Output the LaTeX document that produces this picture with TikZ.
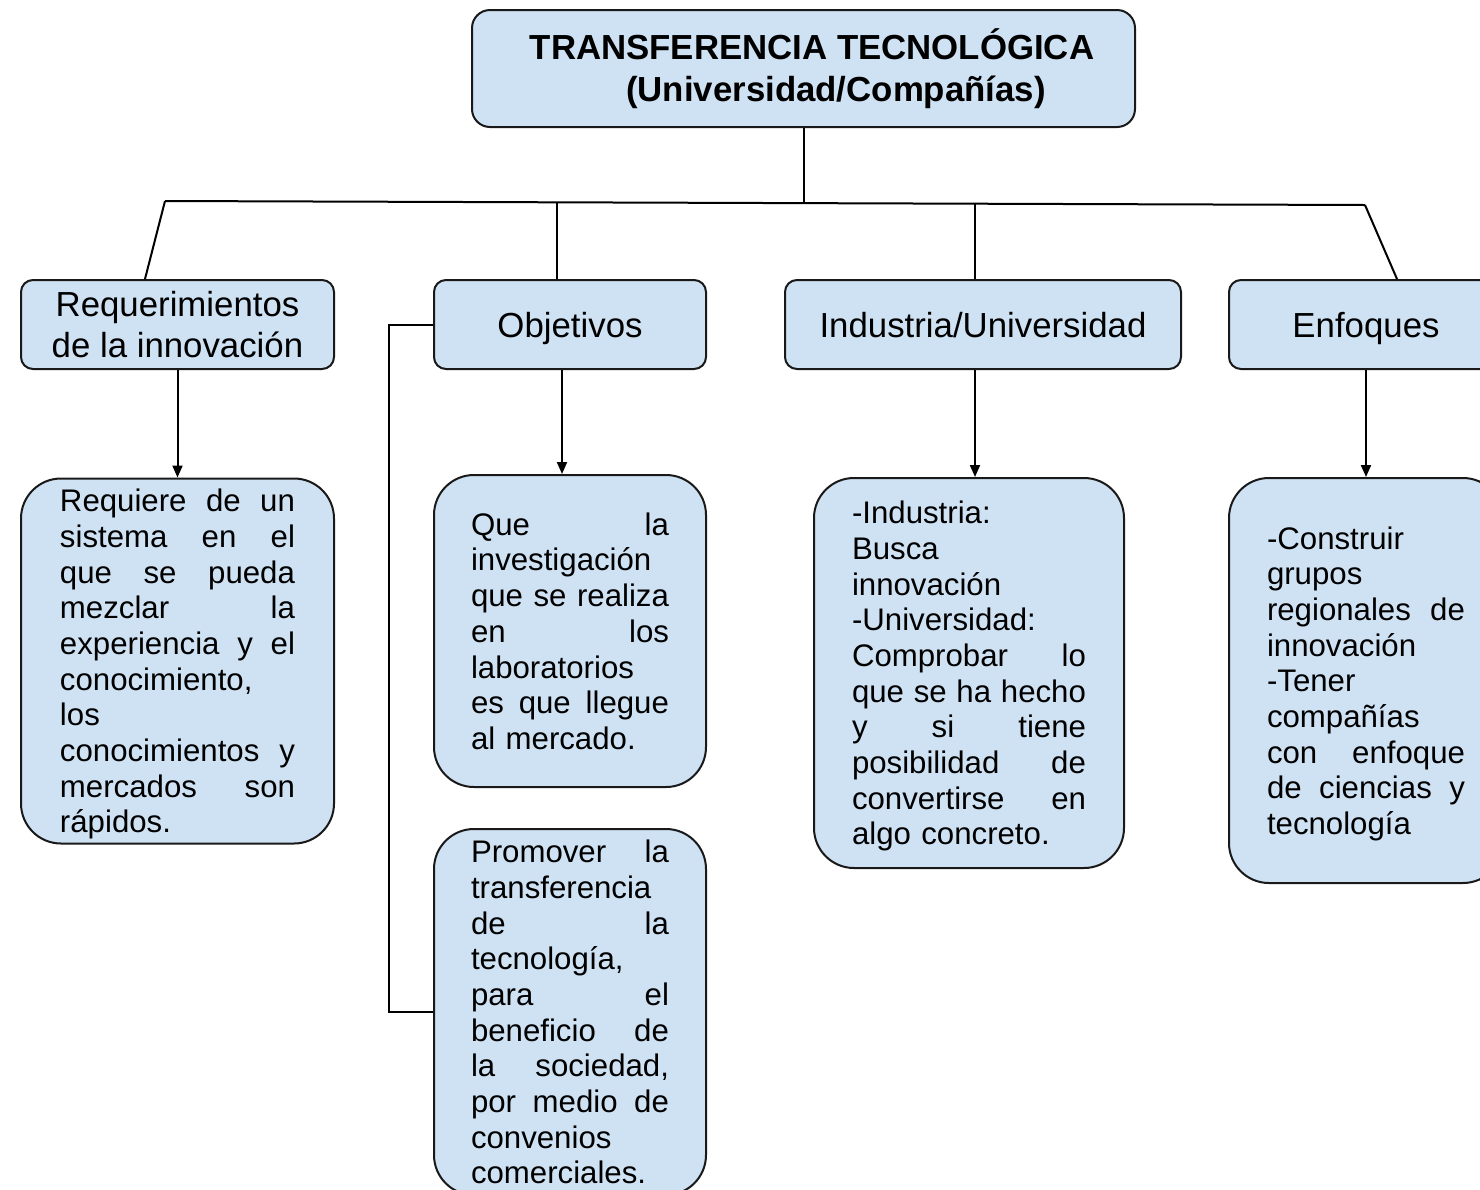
\documentclass[tikz,border=0pt]{standalone}
\usepackage{fontspec}
\setmainfont{Liberation Sans}
\usepackage{xcolor}
\usetikzlibrary{calc}
\usetikzlibrary{arrows.meta}
\definecolor{boxblue}{HTML}{CFE2F3}
\tikzset{
  every node/.style = {font = \fontsize{15.6}{17.85}\selectfont}
}
\tikzset{
    >={Triangle[length=6pt,width=5pt]}
}
\tikzset{
  box/.style = {draw=black!90, fill=boxblue, line width=1pt, inner sep=0pt},
  head/.style = {box, rounded corners=6pt, align=center, minimum height=44.5pt,
    font=\fontsize{17.4}{20.5}\selectfont},
  single/.style = {head, text height=12.5pt, text depth=0pt},
  leaf/.style = {box, rounded corners=20pt, align=left}
}
\newcommand{\jl}[1]{\makebox[\hsize][s]{\spaceskip=.28em plus 1fil\relax #1}}

\begin{document}
\begin{tikzpicture}[x=0.5pt,y=-0.5pt,line width=1pt]
\useasboundingbox (0,0) rectangle (1480,1190);

% Title
\node[box, rounded corners=9pt, align=center, minimum width=331.5pt, minimum height=58.5pt,
  font=\bfseries\fontsize{17.4}{21}\selectfont] (title) at (803.5,68.5)
  {\hspace*{8.5pt}TRANSFERENCIA TECNOLÓGICA\\\hspace*{32.5pt}(Universidad/Compañías)};

% Second row
\node[head, minimum width=156.5pt] (req) at (177.5,324.5) {Requerimientos\\de la innovación};
\node[single, minimum width=136pt] (obj) at (570,324.5) {Objetivos};
\node[single, minimum width=198pt] (ind) at (983,324.5) {Industria/Universidad};
\node[single, minimum width=137pt] (enf) at (1366,324.5) {Enfoques};

% Third row (text depth = lines below the first, no descender)
\node[leaf, text width=117.5pt, text depth=160.65pt, minimum width=156.5pt, minimum height=182.5pt]
  (reqd) at (177.5,661)
  {\jl{Requiere de un}\\\jl{sistema en el}\\\jl{que se pueda}\\\jl{mezclar la}\\\jl{experiencia y el}\\
   conocimiento,\\los\\\jl{conocimientos y}\\\jl{mercados son}\\rápidos.};
\node[leaf, text width=99pt, text depth=107.1pt, minimum width=136pt, minimum height=156pt]
  (objd) at (570,631)
  {\jl{Que la}\\investigación\\\jl{que se realiza}\\\jl{en los}\\laboratorios\\\jl{es que llegue}\\al mercado.};
\node[leaf, text width=99pt, text depth=160.65pt, minimum width=136pt, minimum height=183pt]
  (objp) at (570,1012)
  {\jl{Promover la}\\transferencia\\\jl{de la}\\tecnología,\\\jl{para el}\\\jl{beneficio de}\\
   \jl{la sociedad,}\\\jl{por medio de}\\convenios\\comerciales.};
\node[leaf, text width=117pt, text depth=160.65pt, minimum width=155pt, minimum height=195pt]
  (indd) at (969,673)
  {-Industria:\\Busca\\innovación\\-Universidad:\\\jl{Comprobar lo}\\\jl{que se ha hecho}\\
   \jl{y si tiene}\\\jl{posibilidad de}\\\jl{convertirse en}\\algo concreto.};
\node[leaf, text width=99pt, text depth=142.8pt, minimum width=137pt, minimum height=202.5pt]
  (enfd) at (1366,680.5)
  {-Construir\\grupos\\\jl{regionales de}\\innovación\\-Tener\\compañías\\\jl{con enfoque}\\
   \jl{de ciencias y}\\tecnología};

% The bus
\coordinate (bl) at (165,201);
\coordinate (br) at (1365,205);
\coordinate (bt) at (803.5,203);
\coordinate (bo) at (557,202);
\coordinate (bi) at (975,204);
\draw (title.south) -- (bt);
\draw (bl) -- (br);
\draw (bl) -- ($(req.north)+(-32.5,0)$);
\draw (br) -- ($(enf.north)+(31,0)$);
\draw (bo) -- (bo |- obj.north);
\draw (bi) -- (bi |- ind.north);

% Arrows down
\draw[->] (req.south) -- (reqd.north);
\draw[->] ($(obj.south)+(-8,0)$) -- ($(objd.north)+(-8,0)$);
\draw[->] ($(ind.south)+(-8,0)$) -- ($(indd.north)+(6,0)$);
\draw[->] (enf.south) -- (enfd.north);
\draw (obj.west) -- ++(-44,0) |- (objp.west);
\end{tikzpicture}
\end{document}
